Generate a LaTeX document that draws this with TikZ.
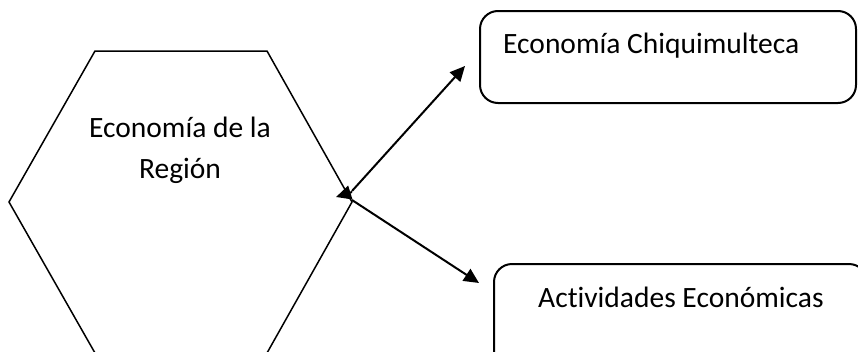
\documentclass[tikz,border=0pt]{standalone}
\usepackage{fontspec}
\setmainfont{Carlito}[Ligatures=NoCommon]
\usetikzlibrary{arrows.meta}
\begin{document}
\begin{tikzpicture}[x=1pt,y=-1pt,
  shapeline/.style={line width=1.5pt},
  roundbox/.style={draw, line width=2pt, rounded corners=18pt, inner sep=0pt},
  txt/.style={font=\fontsize{29.5}{41}\selectfont, inner sep=0pt},
  arr/.style={line width=2pt, -{Triangle[length=15pt,width=14pt]}}]
  % canvas
  \fill[white] (0,0) rectangle (858,351);
  \clip (0,0) rectangle (858,351);
  % hexagon, cut at the lower edge
  \draw[shapeline] (9,202) -- (95,51) -- (267,51) -- (352,202) -- (267,353) -- (95,353) -- cycle;
  \node[txt, align=center, anchor=base] (region) at (180,178) {Economía de la\\Región};
  % boxes
  \node[roundbox, minimum width=376pt, minimum height=92pt, anchor=north west] (chiq) at (479,10) {};
  \node[txt, anchor=base west] (chiqtext) at (503,53) {Economía Chiquimulteca};
  \node[roundbox, minimum width=373pt, minimum height=120pt, anchor=north west] (act) at (493,263) {};
  \node[txt, anchor=base west] (acttext) at (538,307) {Actividades Económicas};
  % connectors
  \coordinate (hexR) at (352,200);
  \coordinate (chiqTip) at (465,66);
  \coordinate (actTip) at (479,283);
  \coordinate (backTip) at (336,197);
  \draw[arr] ([yshift=9pt]hexR) -- (chiqTip);
  \draw[arr] (hexR) -- (actTip);
  \draw[arr] ([yshift=8pt]hexR) -- (backTip);
\end{tikzpicture}
\end{document}
